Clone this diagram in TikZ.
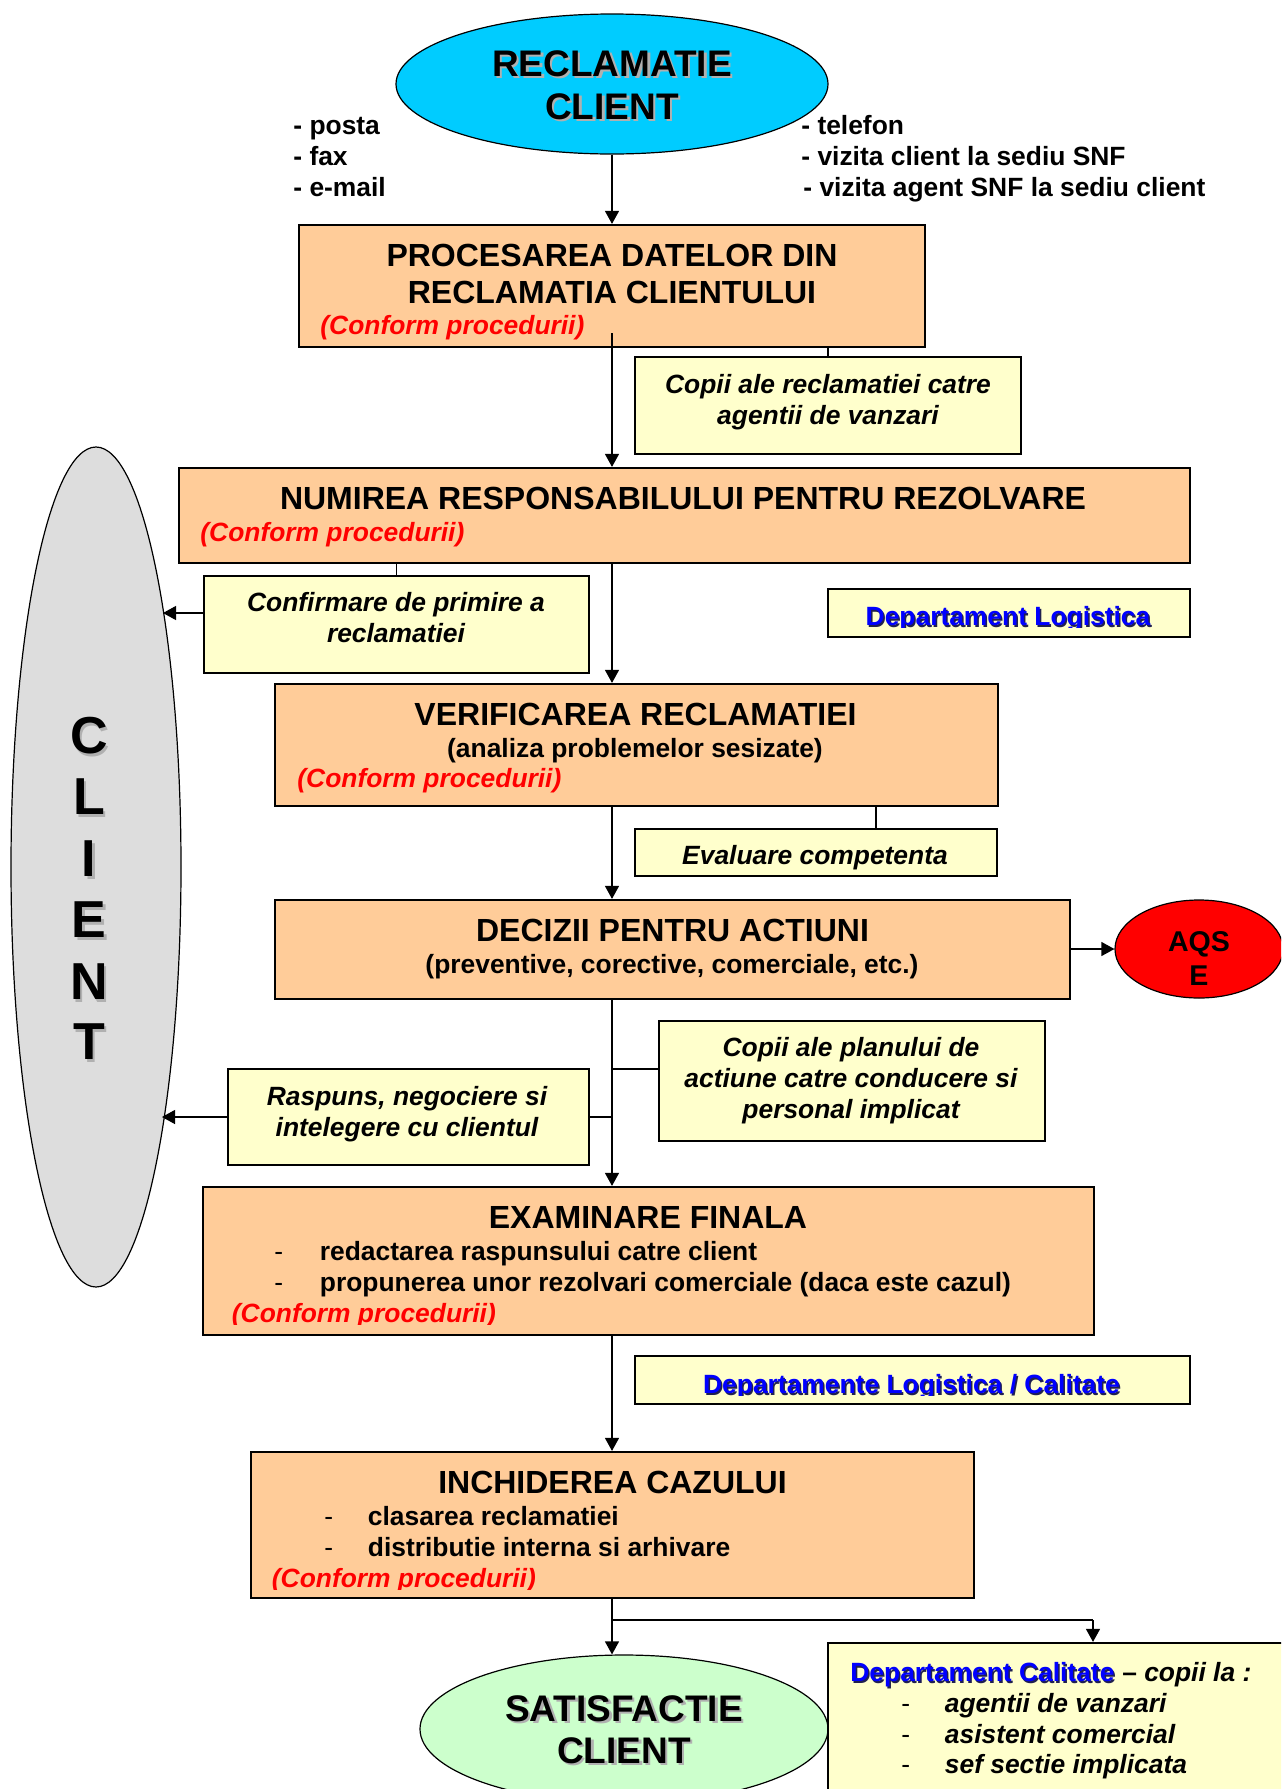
\documentclass[tikz,border=0pt]{standalone}
\usepackage{fontspec}
\setmainfont{Liberation Sans}
\usetikzlibrary{shapes.geometric,arrows.meta,fit}
\definecolor{peach}{HTML}{FFCC99}
\definecolor{lyellow}{HTML}{FFFFCC}
\definecolor{skyc}{HTML}{00CCFF}
\definecolor{cgray}{HTML}{DDDDDD}
\definecolor{lgreen}{HTML}{CCFFCC}
\definecolor{ared}{HTML}{FF0000}
\definecolor{dblue}{HTML}{0000FF}
\definecolor{bshadow}{HTML}{202050}
\definecolor{shadowc}{HTML}{B0B0B0}
\newcommand\fsA{\fontsize{18.5}{21}\selectfont}
\newcommand\fsB{\fontsize{16}{18}\selectfont}
\newcommand\fsC{\fontsize{13.2}{15.5}\selectfont}
\newcommand\fsD{\fontsize{26}{30}\selectfont}
\newcommand\fsE{\fontsize{14.3}{16}\selectfont}
% text with an offset shadow: {shadow colour}{offset}{text colour}{text}
\newcommand\shtext[4]{\makebox[0pt][l]{\kern#2\raisebox{-#2}{\textcolor{#1}{#4}}}\textcolor{#3}{#4}}
\begin{document}
\begin{tikzpicture}[x=0.5pt,y=-0.5pt,
  orbox/.style={draw, line width=1.1pt, fill=peach, inner sep=0pt},
  ybox/.style={draw, line width=1.1pt, fill=lyellow, inner sep=0pt},
  txt/.style={inner sep=0pt, font=\fsC\bfseries},
  dsh/.style={inner sep=0pt, font=\fsC},
  itx/.style={inner sep=0pt, font=\fsC\bfseries\itshape},
  redtxt/.style={inner sep=0pt, font=\fsC\bfseries\itshape, text=ared},
  bluetxt/.style={inner sep=0pt, font=\fsC\bfseries},
  ttl/.style={inner sep=0pt, font=\fsB\bfseries},
  big/.style={inner sep=0pt, font=\fsA\bfseries},
  letter/.style={inner sep=0pt, font=\fsD\bfseries},
  conn/.style={line width=0.6pt},
  arr/.style={line width=0.6pt, -{Triangle[length=6.5pt,width=7pt]}},
  ell/.style={ellipse, draw, line width=0.6pt, inner sep=0pt}
]
\clip (0,0) rectangle (1281,1789);
\fill[white] (0,0) rectangle (1281,1789);

% helper coordinates
\coordinate (m) at (612,0);
\coordinate (e1) at (876,0);
\coordinate (cA) at (163,613);
\coordinate (cB) at (162,1117);
\coordinate (h1) at (612,1069);
\coordinate (br) at (612,1620);
\coordinate (br2) at (1093,1620);

% ellipses
\node[ell, fill=skyc, minimum width=216pt, minimum height=70pt] (top) at (612,84) {};
\node[ell, fill=cgray, minimum width=85pt, minimum height=420pt] (client) at (96,867) {};
\node[ell, fill=ared, minimum width=84pt, minimum height=49pt] (aqse) at (1199,949) {};
\node[ell, fill=lgreen, minimum width=204pt, minimum height=74pt] (sat) at (624,1729) {};

% boxes
\node[orbox, fit={(299,225)(925,347)}] (b1) {};
\node[ybox, fit={(635,357)(1021,454)}] (cp1) {};
\node[orbox, fit={(179,468)(1190,563)}] (b2) {};
\node[ybox, fit={(204,576)(589,673)}] (conf) {};
\node[ybox, fit={(828,589)(1190,637)}] (dlog) {};
\node[orbox, fit={(275,684)(998,806)}] (b3) {};
\node[ybox, fit={(635,829)(997,876)}] (eval) {};
\node[orbox, fit={(275,900)(1070,999)}] (b4) {};
\node[ybox, fit={(659,1021)(1045,1141)}] (cpplan) {};
\node[ybox, fit={(228,1069)(589,1165)}] (rasp) {};
\node[orbox, fit={(203,1187)(1094,1335)}] (b5) {};
\node[ybox, fit={(635,1356)(1190,1404)}] (dlc) {};
\node[orbox, fit={(251,1452)(974,1598)}] (b6) {};
\node[ybox, fit={(828,1643)(1310,1820)}] (dcal) {};

% connectors
\draw[arr] (top.south) -- (top.south |- b1.north);
\draw[arr] ([yshift=7.5pt]b1.south) -- (b1.south |- b2.north);
\draw[conn] (cp1.north |- b1.south) -- (cp1.north);
\draw[arr] (m |- b2.south) -- (m |- b3.north);
\draw[conn] (conf.north |- b2.south) -- (conf.north);
\draw[arr] (conf.west |- cA) -- (cA);
\draw[arr] (m |- b3.south) -- (m |- b4.north);
\draw[conn] (e1 |- b3.south) -- (e1 |- eval.north);
\draw[arr] (b4.east |- aqse.west) -- (aqse.west);
\draw[arr] (m |- b4.south) -- (m |- b5.north);
\draw[conn] (h1) -- (h1 -| cpplan.west);
\draw[conn] (rasp.east |- cB) -- (m |- cB);
\draw[arr] (rasp.west |- cB) -- (cB);
\draw[arr] (m |- b5.south) -- (m |- b6.north);
\draw[arr] (m |- b6.south) -- (m |- sat.north);
\draw[conn] (br) -- (br2);
\draw[arr] (br2) -- (br2 |- dcal.north);

% top ellipse text
\node[big, anchor=base] (tt1) at (612,76) {\shtext{shadowc}{1.25pt}{black}{RECLAMATIE}};
\node[big, anchor=base] (tt2) at (612,119) {\shtext{shadowc}{1.25pt}{black}{CLIENT}};

% channels
\node[txt, anchor=base west] (l1) at (293,134.5) {- posta};
\node[txt, anchor=base west] (l2) at (293,165.5) {- fax};
\node[txt, anchor=base west] (l3) at (293,196.5) {- e-mail};
\node[txt, anchor=base west] (r1) at (801,134.5) {- telefon};
\node[txt, anchor=base west] (r2) at (801,165.5) {- vizita client la sediu SNF};
\node[txt, anchor=base west] (r3) at (803,196.5) {- vizita agent SNF la sediu client};

% box 1
\node[ttl, anchor=base] (b1t1) at (612,266.5) {PROCESAREA DATELOR DIN};
\node[ttl, anchor=base] (b1t2) at (612,303.5) {RECLAMATIA CLIENTULUI};
\node[redtxt, anchor=base west] (b1r) at (320,334.5) {(Conform procedurii)};
\node[itx, anchor=base] (cp1a) at (828,393.5) {Copii ale reclamatiei catre};
\node[itx, anchor=base] (cp1b) at (828,424.5) {agentii de vanzari};

% box 2
\node[ttl, anchor=base] (b2t) at (683,509.5) {NUMIREA RESPONSABILULUI PENTRU REZOLVARE};
\node[redtxt, anchor=base west] (b2r) at (200,541.5) {(Conform procedurii)};
\node[itx, anchor=base] (confa) at (396,611.5) {Confirmare de primire a};
\node[itx, anchor=base] (confb) at (396,642.5) {reclamatiei};
\begin{scope}
\clip (830,590) rectangle (1188,627);
\node[bluetxt, anchor=base] (dlogt) at (1008,625.5) {\shtext{bshadow}{0.75pt}{dblue}{Departament Logistica}};
\end{scope}

% box 3
\node[ttl, anchor=base] (b3t) at (635.5,725.5) {VERIFICAREA RECLAMATIEI};
\node[txt, anchor=base] (b3s) at (635,757.5) {(analiza problemelor sesizate)};
\node[redtxt, anchor=base west] (b3r) at (297,787.5) {(Conform procedurii)};
\node[itx, anchor=base] (evalt) at (815,864.5) {Evaluare competenta};

% box 4
\node[ttl, anchor=base] (b4t) at (672.5,941.5) {DECIZII PENTRU ACTIUNI};
\node[txt, anchor=base] (b4s) at (672,973.5) {(preventive, corective, comerciale, etc.)};
\node[inner sep=0pt, font=\fsE\bfseries, anchor=base] (aq1) at (1199,951) {AQS};
\node[inner sep=0pt, font=\fsE\bfseries, anchor=base] (aq2) at (1199,985) {E};

% copies plan / response
\node[itx, anchor=base] (cpp1) at (851,1056.5) {Copii ale planului de};
\node[itx, anchor=base] (cpp2) at (851,1087.5) {actiune catre conducere si};
\node[itx, anchor=base] (cpp3) at (851,1118.5) {personal implicat};
\node[itx, anchor=base] (ra1) at (407,1105.5) {Raspuns, negociere si};
\node[itx, anchor=base] (ra2) at (407,1136.5) {intelegere cu clientul};

% box 5
\node[ttl, anchor=base] (b5t) at (648,1228.5) {EXAMINARE FINALA};
\node[dsh, anchor=base west] (b5d1) at (274,1260.5) {-};
\node[txt, anchor=base west] (b5i1) at (319.5,1260.5) {redactarea raspunsului catre client};
\node[dsh, anchor=base west] (b5d2) at (274,1291.5) {-};
\node[txt, anchor=base west] (b5i2) at (319.5,1291.5) {propunerea unor rezolvari comerciale (daca este cazul)};
\begin{scope}
\clip (205,1300) rectangle (1090,1324);
\node[redtxt, anchor=base west] (b5r) at (231.5,1322.5) {(Conform procedurii)};
\end{scope}
\begin{scope}
\clip (637,1358) rectangle (1188,1395);
\node[bluetxt, anchor=base] (dlct) at (911.5,1393.5) {\shtext{bshadow}{0.75pt}{dblue}{Departamente Logistica / Calitate}};
\end{scope}

% box 6
\node[ttl, anchor=base] (b6t) at (612.5,1493.5) {INCHIDEREA CAZULUI};
\node[dsh, anchor=base west] (b6d1) at (324,1525.5) {-};
\node[txt, anchor=base west] (b6i1) at (367.5,1525.5) {clasarea reclamatiei};
\node[dsh, anchor=base west] (b6d2) at (324,1556.5) {-};
\node[txt, anchor=base west] (b6i2) at (367.5,1556.5) {distributie interna si arhivare};
\begin{scope}
\clip (253,1565) rectangle (970,1589);
\node[redtxt, anchor=base west] (b6r) at (271.5,1587.5) {(Conform procedurii)};
\end{scope}

% satisfaction
\node[big, anchor=base] (st1) at (624,1721) {\shtext{shadowc}{1.25pt}{black}{SATISFACTIE}};
\node[big, anchor=base] (st2) at (624,1763) {\shtext{shadowc}{1.25pt}{black}{CLIENT}};

% departament calitate
\begin{scope}
\clip (832,1648) rectangle (1281,1692);
\node[bluetxt, anchor=base west] (dc0) at (850,1681.5) {\shtext{bshadow}{0.75pt}{dblue}{Departament Calitate}};
\end{scope}
\node[bluetxt, anchor=base west] (dc0b) at ([xshift=3.5pt]dc0.base east) {– \textit{copii la :}};
\node[dsh, anchor=base west] (dcd1) at (901,1712.5) {-};
\node[itx, anchor=base west] (dci1) at (944.5,1712.5) {agentii de vanzari};
\node[dsh, anchor=base west] (dcd2) at (901,1743.5) {-};
\node[itx, anchor=base west] (dci2) at (944.5,1743.5) {asistent comercial};
\node[dsh, anchor=base west] (dcd3) at (901,1773.5) {-};
\node[itx, anchor=base west] (dci3) at (944.5,1773.5) {sef sectie implicata};

% CLIENT vertical letters
\node[letter, anchor=base] (c1) at (89,753.5) {\shtext{shadowc}{1.25pt}{black}{C}};
\node[letter, anchor=base] (c2) at (89,814.5) {\shtext{shadowc}{1.25pt}{black}{L}};
\node[letter, anchor=base] (c3) at (89,876.5) {\shtext{shadowc}{1.25pt}{black}{I}};
\node[letter, anchor=base] (c4) at (89,937.5) {\shtext{shadowc}{1.25pt}{black}{E}};
\node[letter, anchor=base] (c5) at (89,999.5) {\shtext{shadowc}{1.25pt}{black}{N}};
\node[letter, anchor=base] (c6) at (89,1059.5) {\shtext{shadowc}{1.25pt}{black}{T}};
\end{tikzpicture}
\end{document}
